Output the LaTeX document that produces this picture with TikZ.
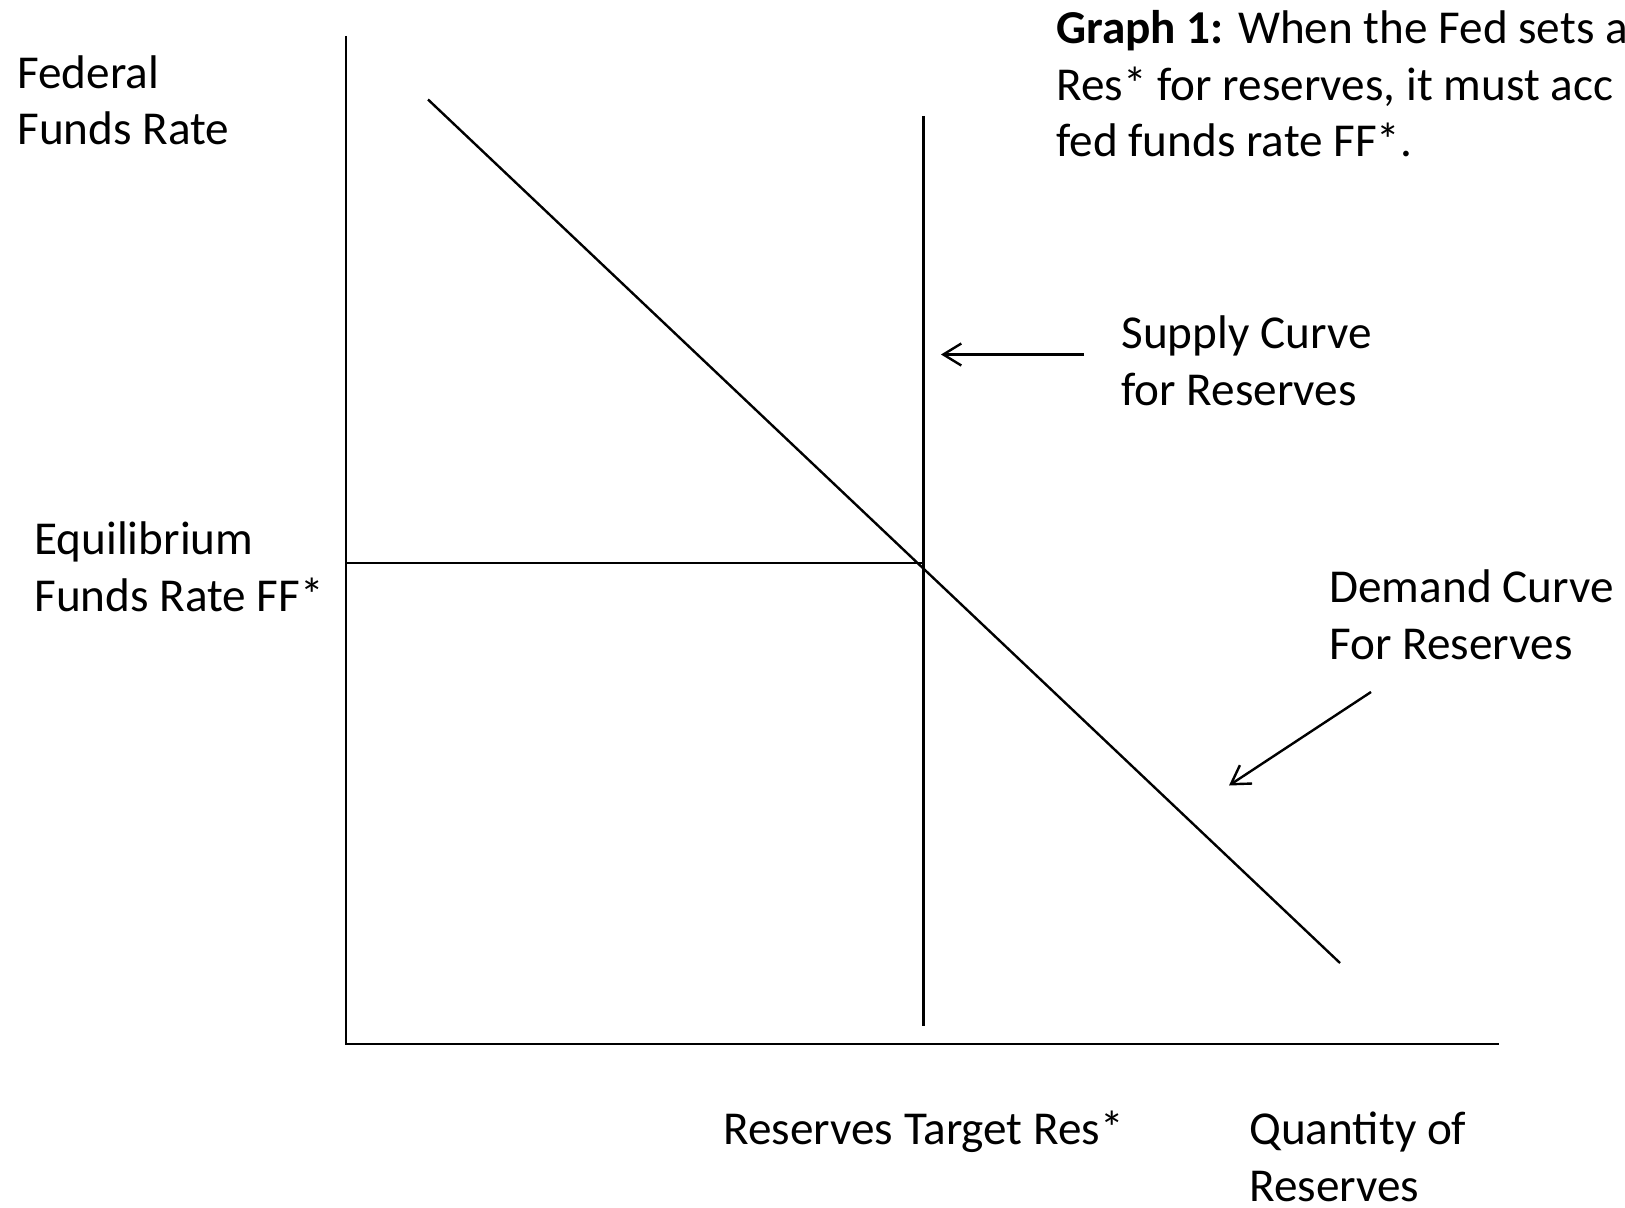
\documentclass[tikz,border=0pt]{standalone}
\usepackage{fontspec}
\setmainfont{Carlito}
\usetikzlibrary{arrows.meta}
\begin{document}
\begin{tikzpicture}[x=0.5pt,y=-0.5pt,
  lbl/.style={inner sep=0pt,anchor=base west,align=left,
    font=\fontsize{23.6pt}{28.4pt}\selectfont},
  axisline/.style={line width=1.2pt},
  curve/.style={line width=1.2pt},
  pointer/.style={line width=1.2pt,-{Straight Barb[length=9pt,width=11pt,line width=1.2pt]}}]
\useasboundingbox (0,0) rectangle (1625,1208);
% axes
\coordinate (ytop) at (346,36);
\coordinate (origin) at (346,1044);
\coordinate (xend) at (1499,1044);
\draw[axisline] (ytop) -- (origin) -- (xend);
% demand curve
\coordinate (dtop) at (428,99.5);
\coordinate (dbot) at (1340,963);
\draw[curve] (dtop) -- (dbot);
% supply curve
\coordinate (stop) at (923.5,116);
\coordinate (sbot) at (923.5,1026);
\draw[curve] (stop) -- (sbot);
% equilibrium line
\coordinate (eqL) at (346,563);
\coordinate (eqR) at (923.5,563);
\draw[curve] (eqL) -- (eqR);
% labels (anchored at the baseline of the last line)
\node[lbl] (yl) at (17,145) {Federal\\Funds Rate};
\node[lbl] (eql) at (34,611) {Equilibrium\\Funds Rate FF*};
\node[lbl] (supl) at (1121,405) {Supply Curve\\for Reserves};
\node[lbl] (deml) at (1329,659) {Demand Curve\\For Reserves};
\node[lbl] (resl) at (723,1144) {Reserves Target Res*};
\node[lbl] (qtyl) at (1249,1201) {Quantity of\\Reserves};
\node[lbl] (title) at (1056,157) {\textbf{Graph 1:} When the Fed sets a\\Res* for reserves, it must acc\\fed funds rate FF*.};
% pointers
\coordinate (sa1) at (1084,354.5);
\coordinate (sa2) at (941,354.5);
\draw[pointer] (sa1) -- (sa2);
\coordinate (da1) at (1371,692);
\coordinate (da2) at (1229,785.5);
\draw[pointer] (da1) -- (da2);
\end{tikzpicture}
\end{document}
